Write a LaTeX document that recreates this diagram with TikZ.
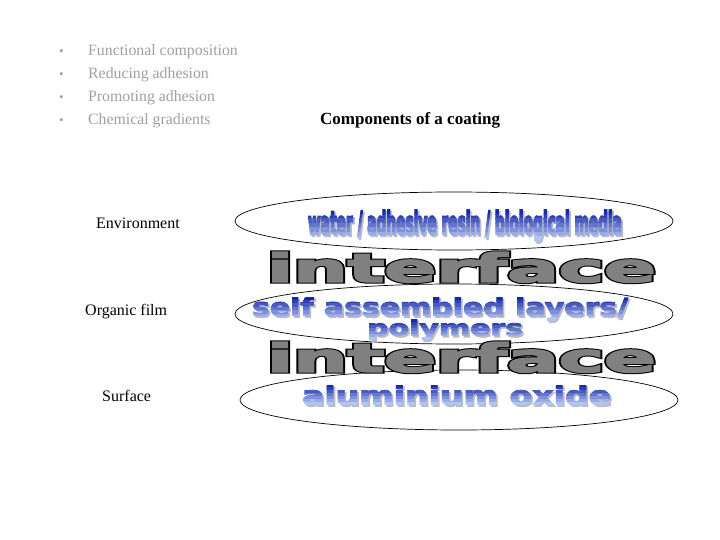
\documentclass[tikz,border=0pt]{standalone}
\usepackage{fontspec}
\setmainfont{Liberation Serif}
\newfontfamily\wafont{DejaVu Sans}
\usepackage{graphicx}
\usetikzlibrary{shapes.geometric}
\definecolor{listgray}{RGB}{160,160,160}
\definecolor{wadark}{RGB}{22,40,165}
\definecolor{walight}{RGB}{185,205,248}
\definecolor{ifgray}{RGB}{128,128,128}
\definecolor{shadowgray}{RGB}{185,188,200}
\tikzset{
  wa/.style={inner sep=0pt, outer sep=0pt, anchor=north west},
  layer/.style={draw=black, line width=0.7pt, ellipse, inner sep=0pt},
  label/.style={inner sep=0pt, anchor=base west, font=\fontsize{16}{19}\selectfont},
  listitem/.style={inner sep=0pt, anchor=base west, text=listgray, font=\fontsize{15.8}{19}\selectfont},
}
% stroke colour r g b, width, text
\newcommand{\thick}[3]{\special{pdf:literal direct #1 RG 2 Tr #2 w}#3\special{pdf:literal direct 0 Tr}}
% name, x, y, w, h, stroke, text
\newcommand{\gradtext}[7]{%
  \node[wa,text=shadowgray] (#1) at (#2+1.8,#3+1.8) {\resizebox*{#4pt}{#5pt}{\fontsize{30}{30}\selectfont\wafont\bfseries\thick{0.725 0.737 0.784}{#6}{#7}}};
  \foreach \k in {0,...,6}{%
    \pgfmathtruncatemacro{\pc}{\k*95/6}%
    \pgfmathsetmacro{\sr}{(22+163*\pc/100)/255}%
    \pgfmathsetmacro{\sg}{(40+165*\pc/100)/255}%
    \pgfmathsetmacro{\sb}{(165+83*\pc/100)/255}%
    \begin{scope}
      \clip ({#2-5},{#3+\k*#5/7}) rectangle ({#2+#4+5},{#3+(\k+1)*#5/7+0.2});
      \node[wa,text=walight!\pc!wadark] (#1-\k) at (#2,#3) {\resizebox*{#4pt}{#5pt}{\fontsize{30}{30}\selectfont\wafont\bfseries\thick{\sr\space\sg\space\sb}{#6}{#7}}};
    \end{scope}
  }%
}
\newcommand{\outlinetext}[6]{%
  \node[wa,text=black] (#1-edge) at (#2,#3) {\resizebox{#4pt}{#5pt}{\fontsize{40}{40}\selectfont\wafont\bfseries\thick{0 0 0}{3.4}{#6}}};
  \node[wa,text=ifgray] (#1) at (#2,#3) {\resizebox{#4pt}{#5pt}{\fontsize{40}{40}\selectfont\wafont\bfseries\thick{0.502 0.502 0.502}{1.4}{#6}}};
}
\begin{document}
\begin{tikzpicture}[x=1pt,y=-1pt]
\useasboundingbox[fill=white] (0,0) rectangle (720,540);

% bullet list
\foreach \t/\yy [count=\i] in {Functional composition/56, Reducing adhesion/79, Promoting adhesion/102, Chemical gradients/125}{
  \node[listitem] (b\i) at (59,\yy) {\fontsize{13}{14}\selectfont\textbullet};
  \node[listitem] (li\i) at (88,\yy) {\t};
}

\node[inner sep=0pt, anchor=base west, font=\fontsize{17}{20}\selectfont\bfseries] (title) at (320,125) {Components of a coating};

% left labels
\node[label] (envl) at (96,229) {Environment};
\node[label] (orgl) at (85,315) {Organic film};
\node[label] (surfl) at (102,401) {Surface};

% layers
\node[layer, minimum width=438pt, minimum height=58pt] (env) at (454,221) {};
\node[layer, minimum width=438pt, minimum height=60pt] (org) at (454,314) {};
\node[layer, minimum width=438pt, minimum height=60pt] (surf) at (459,400) {};

% layer texts
\gradtext{water}{308}{210}{314}{31}{2.2}{water / adhesive resin / biological media}
\outlinetext{if1}{267}{252}{389}{30}{interface}
\gradtext{sal}{252}{297}{376}{24}{1.0}{self assembled layers/}
\gradtext{poly}{367}{319}{156}{21}{1.0}{polymers}
\outlinetext{if2}{267}{342}{389}{30}{interface}
\gradtext{alu}{302}{385}{309}{20}{1.0}{aluminium oxide}
\end{tikzpicture}
\end{document}
